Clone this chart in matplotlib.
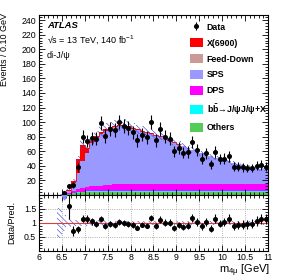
import numpy as np
import matplotlib
matplotlib.use("Agg")
import matplotlib.pyplot as plt
from matplotlib.patches import Patch
from matplotlib.ticker import MultipleLocator, FixedLocator, FormatStrFormatter

plt.rcParams['font.family'] = ['Liberation Sans', 'DejaVu Sans']
plt.rcParams['mathtext.fontset'] = 'custom'
plt.rcParams['mathtext.rm'] = 'Liberation Sans'
plt.rcParams['mathtext.it'] = 'Liberation Sans:italic'
plt.rcParams['mathtext.bf'] = 'Liberation Sans:bold'
plt.rcParams['mathtext.default'] = 'regular'
plt.rcParams['hatch.linewidth'] = 0.45

# binning: 0.1 GeV bins from 6 to 11 GeV
edges = np.linspace(6.0, 11.0, 51)
centers = 0.5 * (edges[:-1] + edges[1:])

# observed events per bin
data = [0, 0, 0, 0, 0,
        3, 12, 14, 38, 80, 74, 78, 77, 99, 81,
        90, 89, 100, 95, 92, 86, 75, 83, 79, 100,
        75, 91, 80, 77, 60, 65, 58, 59, 73, 62,
        50, 57, 42, 59, 49, 50, 53, 39, 39, 38,
        37, 37, 40, 41, 39]

# background / signal components (events per bin)
others = [0, 0, 0, 0, 0.2,
          0.6, 1.5, 2.5, 3.0, 3.5] + [4.0] * 40
bbbar = [0, 0, 0, 0, 0,
         0.2, 0.5, 0.8, 1.2, 1.3] + [1.5] * 40
dps = [0, 0, 0, 0, 0,
       0.3, 1.0, 2.0, 3.5, 4.5, 5.5, 6.5, 7.0, 7.5, 8.0,
       8.5] + [9.0] * 34
sps = [0, 0, 0, 0, 0.4,
       0.2, 3.0, 10.9, 22.0, 37.4, 46.7, 58.7, 65.2, 70.7, 74.7,
       77.0, 79.0, 80.3, 80.3, 79.3, 76.4, 74.4, 72.5, 71.5, 69.5,
       67.5, 66.0, 64.0, 61.0, 58.0, 55.0, 52.5, 50.5, 47.5, 45.5,
       42.5, 40.5, 38.5, 36.5, 35.5, 33.5, 31.5, 29.5, 27.5, 26.0,
       24.5, 23.5, 22.5, 21.0, 20.0]
feeddown = [0] * 7 + [0.3] * 8 + [0] * 35
x6900 = [0, 0, 0, 0, 0,
         0, 1.5, 3.0, 19.0, 22.0, 7.0, 3.0, 3.0, 3.0, 2.5,
         2.0, 1.5, 1.2, 1.2, 1.2, 1.1, 1.1, 1.0, 1.0, 1.0,
         1.0, 0.5, 0.5, 0.5, 0.5, 0.5] + [0] * 19
# relative uncertainty on total prediction
rel_unc = [0, 0, 0, 0, 0.55,
           0.30, 0.15, 0.10, 0.10, 0.10, 0.10, 0.10, 0.09, 0.09, 0.09,
           0.08, 0.08, 0.08, 0.08, 0.07, 0.07, 0.07, 0.07, 0.07, 0.07] + [0.06] * 25

labels = ['X(6900)', 'Feed-Down', 'SPS', 'DPS',
          r'$\mathbf{b\bar{b}}$→J/ψJ/ψ+X', 'Others']
colors = ['#ff0000', '#cc9999', '#9999ff', '#ff00ff', '#00ffff', '#55cc55']

stack = [others, bbbar, dps, sps, feeddown, x6900]
stack_colors = ['#55cc55', '#00ffff', '#ff00ff', '#9999ff', '#cc9999', '#ff0000']

data = np.array(data, dtype=float)
rel_unc = np.array(rel_unc)

fig = plt.figure(figsize=(2.91, 2.80), dpi=100)
ax = fig.add_axes([39 / 291, 1 - 195 / 280, 229 / 291, 180 / 280])
axr = fig.add_axes([39 / 291, 1 - 251 / 280, 229 / 291, 56 / 280])

# stacked histogram
bottom = np.zeros(len(centers))
for comp, col in zip(stack, stack_colors):
    top = bottom + np.array(comp)
    ax.stairs(top, edges, baseline=bottom.copy(), fill=True, color=col, lw=0, zorder=1)
    bottom = top
total = bottom

# thin red outline where the signal contributes
sig = np.nonzero(np.array(x6900) > 0)[0]
lo, hi = sig[0], sig[-1] + 1
ax.stairs(total[lo:hi], edges[lo:hi + 1], baseline=None, color='#ff0000', lw=0.6, zorder=1.5)

hatch_col = '#4848d8'
ax.stairs(total * (1 + rel_unc), edges, baseline=total * (1 - rel_unc), fill=True,
          facecolor='none', edgecolor=hatch_col, hatch='\\\\\\\\\\\\', lw=0, zorder=2)

has = data > 0
ax.errorbar(centers[has], data[has], yerr=np.sqrt(data[has]), fmt='o', color='black',
            ms=2.6, elinewidth=0.8, capsize=0, zorder=3)

ax.set_xlim(6, 11)
ax.set_ylim(0, 247)
ax.xaxis.set_major_locator(MultipleLocator(0.5))
ax.xaxis.set_minor_locator(MultipleLocator(0.1))
ax.yaxis.set_major_locator(FixedLocator(np.arange(20, 241, 20)))
ax.yaxis.set_minor_locator(MultipleLocator(4))
ax.tick_params(axis='x', labelbottom=False)

# ratio panel
pred = total
ok = has & (pred > 0)
ratio = np.where(ok, data / np.where(pred > 0, pred, 1), np.nan)
rerr = np.where(ok, np.sqrt(data) / np.where(pred > 0, pred, 1), np.nan)
valid = ok & (ratio <= 2)
over = ok & (ratio > 2)

axr.stairs(1 + rel_unc, edges, baseline=1 - rel_unc, fill=True, facecolor='none',
           edgecolor=hatch_col, hatch='\\\\\\\\\\\\', lw=0, zorder=1)
axr.axhline(1, color='#e03c3c', lw=0.8, zorder=2)
axr.errorbar(centers[valid], ratio[valid], yerr=rerr[valid], fmt='o', color='black',
             ms=2.6, elinewidth=0.8, capsize=0, zorder=3)
axr.plot(centers[over], np.full(over.sum(), 1.93), marker='v', ls='none',
         color='#8888ff', ms=3.5, zorder=3)

axr.set_xlim(6, 11)
axr.set_ylim(0, 2)
axr.xaxis.set_major_locator(MultipleLocator(0.5))
axr.xaxis.set_minor_locator(MultipleLocator(0.1))
axr.xaxis.set_major_formatter(FormatStrFormatter('%g'))
axr.yaxis.set_major_locator(FixedLocator([0.5, 1.0, 1.5]))
axr.yaxis.set_major_formatter(FormatStrFormatter('%g'))
axr.yaxis.set_minor_locator(MultipleLocator(0.1))
axr.grid(True, which='major', ls=':', color='#999999', lw=0.6)

for a in (ax, axr):
    a.tick_params(which='both', direction='in', top=True, right=True, labelsize=6.3,
                  pad=2, width=0.6)
    a.tick_params(which='major', length=4)
    a.tick_params(which='minor', length=2)
    for s in a.spines.values():
        s.set_linewidth(0.8)
axr.tick_params(axis='x', pad=1.5)

# legend
handles = [ax.errorbar([], [], yerr=[], fmt='o', color='black', ms=2.6, elinewidth=0.8)]
handles += [Patch(facecolor=c, edgecolor='none') for c in colors]
leg = ax.legend(handles, ['Data'] + labels, loc='upper left', bbox_to_anchor=(0.659, 0.96),
                frameon=False, borderpad=0, borderaxespad=0, handlelength=1.5,
                handleheight=1.25, labelspacing=0.72, handletextpad=0.4,
                prop={'size': 6.3, 'weight': 'bold'})

ax.text(0.034, 0.944, 'ATLAS', transform=ax.transAxes, fontsize=6.8, fontweight='bold',
        fontstyle='italic', va='center')
ax.text(0.034, 0.862, '√s = 13 TeV, 140 fb$^{-1}$', transform=ax.transAxes, fontsize=6.5,
        va='center')
ax.text(0.034, 0.775, 'di-J/ψ', transform=ax.transAxes, fontsize=6.5, va='center')

fig.text(5 / 291, 1 - 13 / 280, 'Events / 0.10 GeV', rotation=90, ha='center', va='top',
         fontsize=6.5)
fig.text(12 / 291, 1 - 222 / 280, 'Data/Pred.', rotation=90, ha='center', va='center',
         fontsize=6.5)
fig.text(270 / 291, 1 - 271 / 280, r'm$_{4\mu}$ [GeV]', ha='right', va='center', fontsize=8)

fig.savefig('out.png', dpi=100)
